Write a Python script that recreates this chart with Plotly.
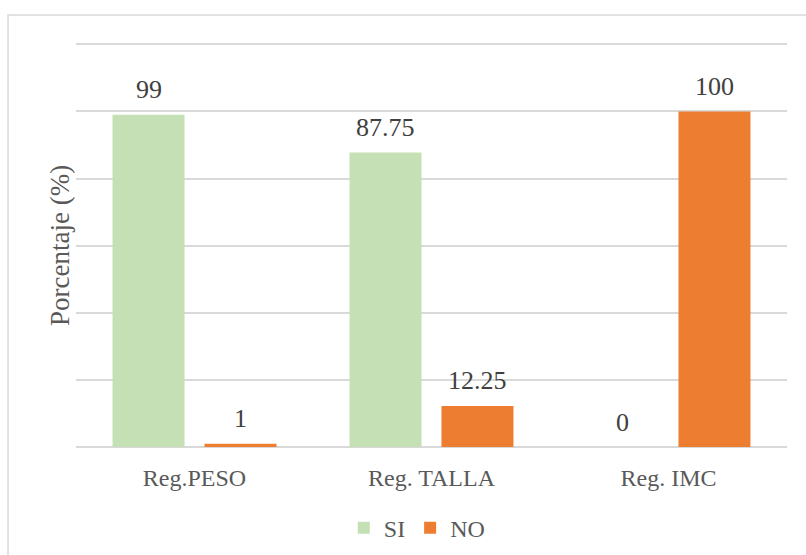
import plotly.graph_objects as go

categories = ["Reg.PESO", "Reg. TALLA", "Reg. IMC"]
si_values = [99, 87.75, 0]
no_values = [1, 12.25, 100]
si_labels = ["99", "87.75", "0"]
no_labels = ["1", "12.25", "100"]

FONT = "Liberation Serif, serif"
GREEN = "#C5E0B4"
ORANGE = "#ED7D31"

fig = go.Figure()
fig.add_trace(go.Bar(name="SI", x=categories, y=si_values, marker=dict(color=GREEN, line=dict(width=0))))
fig.add_trace(go.Bar(name="NO", x=categories, y=no_values, marker=dict(color=ORANGE, line=dict(width=0))))

annotations = []
for cat, v, lab in zip(categories, si_values, si_labels):
    annotations.append(dict(x=cat, y=v, text=lab, showarrow=False, xref="x", yref="y",
                            xshift=-46, yshift=25, yanchor="middle",
                            font=dict(family=FONT, size=26, color="#404040")))
for cat, v, lab in zip(categories, no_values, no_labels):
    annotations.append(dict(x=cat, y=v, text=lab, showarrow=False, xref="x", yref="y",
                            xshift=46, yshift=25, yanchor="middle",
                            font=dict(family=FONT, size=26, color="#404040")))
annotations.append(dict(x=-0.0225, y=0.495, xref="paper", yref="paper", text="Porcentaje (%)",
                        textangle=-90, showarrow=False, xanchor="center", yanchor="middle",
                        font=dict(family=FONT, size=27, color="#595959")))

fig.update_layout(
    width=806, height=555,
    margin=dict(l=76, r=19, t=41, b=108, autoexpand=False),
    paper_bgcolor="white", plot_bgcolor="white",
    barmode="group", bargap=0.224, bargroupgap=0.217,
    font=dict(family=FONT, color="#595959"),
    annotations=annotations,
    legend=dict(orientation="h", x=0.48, xanchor="center", y=-0.2, yanchor="middle",
                font=dict(family=FONT, size=24, color="#595959"),
                itemwidth=30, traceorder="normal"),
    xaxis=dict(showgrid=False, showline=False, ticks="", automargin=False,
               tickfont=dict(family=FONT, size=24, color="#595959"),
               ticklabelstandoff=14),
    yaxis=dict(range=[0, 121], tick0=0, dtick=20, showgrid=True, gridcolor="#D9D9D9", gridwidth=1.5,
               zeroline=True, zerolinecolor="#D9D9D9", zerolinewidth=1.5, automargin=False,
               showticklabels=False, showline=False),
    shapes=[dict(type="rect", xref="paper", yref="paper", x0=-0.0956, x1=1.04, y0=-0.3, y1=1.064,
                 line=dict(color="#D9D9D9", width=1.5), fillcolor="rgba(0,0,0,0)", layer="below")],
)

fig.write_html("out.html")
